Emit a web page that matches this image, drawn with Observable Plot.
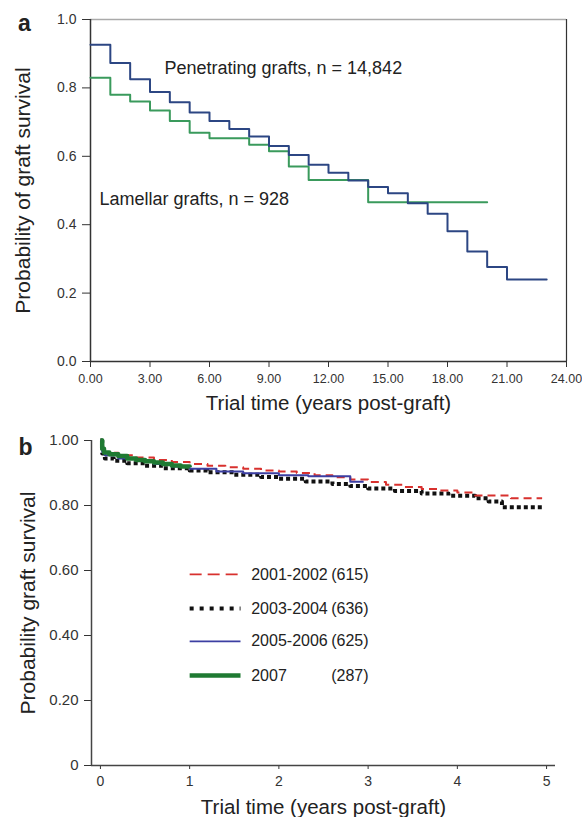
<!DOCTYPE html>
<html><head><meta charset="utf-8">
<script src="https://cdn.jsdelivr.net/npm/d3@7"></script>
<script src="https://cdn.jsdelivr.net/npm/@observablehq/plot@0.6"></script>
<style>
body{margin:0;background:#fff;}
#wrap{width:582px;}
svg{display:block}
</style></head><body><div id="wrap"></div>
<script>
// ---------- Panel a data ----------
const penYears = [0,1,2,3,4,5,6,7,8,9,10,11,12,13,14,15,16,17,18,19,20,21,23];
const penSurv  = [0.926,0.873,0.825,0.788,0.758,0.728,0.703,0.680,0.658,0.630,0.604,0.575,0.552,0.529,0.510,0.492,0.463,0.432,0.381,0.322,0.276,0.240,0.240];
const lamYears = [0,1,2,3,4,5,6,8,9,10,11,14,20];
const lamSurv  = [0.830,0.780,0.760,0.734,0.703,0.669,0.653,0.634,0.615,0.570,0.531,0.466,0.466];
const xTicksA = [0,3,6,9,12,15,18,21,24];
const yTicksA = [0,0.2,0.4,0.6,0.8,1.0];
const annotText = ["Penetrating grafts, n = 14,842","Lamellar grafts, n = 928"];
const annotYear = [3.73,0.45];
const annotSurv = [0.857,0.474];

// ---------- Panel b data ----------
const t0102 = [0,0.02,0.05,0.2,0.4,0.6,0.8,1.0,1.2,1.4,1.6,1.8,2.0,2.2,2.4,2.6,2.8,3.0,3.2,3.4,3.6,3.8,4.0,4.2,4.6,4.95];
const s0102 = [1.0,0.97,0.962,0.955,0.948,0.94,0.934,0.928,0.922,0.918,0.913,0.908,0.905,0.9,0.893,0.887,0.88,0.872,0.864,0.857,0.851,0.846,0.84,0.831,0.822,0.822];
const t0304 = [0,0.02,0.05,0.15,0.3,0.5,0.7,1.0,1.2,1.5,1.8,2.0,2.3,2.6,2.8,3.0,3.3,3.6,3.9,4.2,4.35,4.5,4.95];
const s0304 = [1.0,0.96,0.945,0.938,0.93,0.922,0.915,0.908,0.902,0.895,0.888,0.882,0.874,0.866,0.86,0.852,0.845,0.837,0.83,0.822,0.812,0.795,0.795];
const t0506 = [0,0.02,0.05,0.2,0.4,0.6,0.8,1.0,1.3,1.6,2.0,2.33,2.8,2.95];
const s0506 = [1.0,0.965,0.955,0.945,0.937,0.928,0.92,0.913,0.905,0.899,0.893,0.89,0.873,0.873];
const t07 = [0,0.02,0.04,0.1,0.2,0.3,0.4,0.5,0.6,0.7,0.8,0.9,1.0];
const s07 = [1.0,0.975,0.963,0.958,0.952,0.945,0.94,0.936,0.932,0.928,0.923,0.92,0.918];
const legendPeriod = ["2001-2002","2003-2004","2005-2006","2007"];
const legendCount  = ["(615)","(636)","(625)","(287)"];
const xTicksB = [0,1,2,3,4,5];
const yTicksB = [0,0.2,0.4,0.6,0.8,1.0];

const FONT = '"Liberation Sans", Arial, Helvetica, sans-serif';
const ink = "#222";
const idx = a => a.map((_, i) => i);
const centered = {textAnchor: "middle", lineAnchor: "middle"};

// ---------- Panel a ----------
const A = Plot.plot({
  width: 582, height: 415,
  marginLeft: 90, marginRight: 16, marginTop: 19, marginBottom: 54,
  style: {fontFamily: FONT, background: "#fff", color: ink},
  x: {domain: [0, 24]},
  y: {domain: [0, 1]},
  marks: [
    Plot.ruleY([1], {stroke: "#aaa", strokeWidth: 1.5}),
    Plot.ruleX([24], {stroke: "#333", strokeWidth: 1.2}),
    Plot.axisX({ticks: xTicksA, tickFormat: d3.format(".2f"), tickSize: 6, tickPadding: 7, fontSize: 12.5, label: null, color: "#333"}),
    Plot.axisY({ticks: yTicksA, tickFormat: d3.format(".1f"), tickSize: 8, tickPadding: 6, fontSize: 14, label: null, color: "#333"}),
    Plot.ruleY([0], {stroke: "#333", strokeWidth: 1.5}),
    Plot.ruleX([0], {stroke: "#333", strokeWidth: 1.5}),
    Plot.line(idx(lamYears), {x: i => lamYears[i], y: i => lamSurv[i], curve: "step-after", stroke: "#3a9a5c", strokeWidth: 2}),
    Plot.line(idx(penYears), {x: i => penYears[i], y: i => penSurv[i], curve: "step-after", stroke: "#2c4683", strokeWidth: 2}),
    Plot.text(idx(annotText), {x: i => annotYear[i], y: i => annotSurv[i], text: i => annotText[i], textAnchor: "start", fontSize: 18, fill: ink}),
    Plot.text(["a"], {frameAnchor: "top-left", dx: -66, dy: 4, fontSize: 23, fontWeight: "bold", fill: ink, ...centered}),
    Plot.text(["Probability of graft survival"], {frameAnchor: "left", rotate: -90, dx: -67, fontSize: 21, fill: ink, ...centered}),
    Plot.text(["Trial time (years post-graft)"], {frameAnchor: "bottom", dy: 42, fontSize: 20.5, fill: ink, ...centered})
  ]
});

// ---------- Panel b ----------
const bx0 = 1.0, bx1 = 1.57, bxText = 1.69, bxCount = 3.005;
const legendY = [0.588, 0.483, 0.382, 0.277];
const styles = [
  {stroke: "#d8312e", strokeWidth: 1.6, strokeDasharray: "12,6"},
  {stroke: "#111", strokeWidth: 4, strokeDasharray: "4,6"},
  {stroke: "#3c3fa2", strokeWidth: 1.6},
  {stroke: "#1f7a32", strokeWidth: 4.5}
];
const series = [[t0102, s0102], [t0304, s0304], [t0506, s0506], [t07, s07]];
const curveStyles = [
  {stroke: "#d8312e", strokeWidth: 2, strokeDasharray: "8,5"},
  {stroke: "#111", strokeWidth: 4, strokeDasharray: "4,3"},
  {stroke: "#3c3fa2", strokeWidth: 2},
  {stroke: "#1f7a32", strokeWidth: 4.5}
];
const drawOrder = [1, 0, 2, 3];

const B = Plot.plot({
  width: 582, height: 402,
  marginLeft: 91, marginRight: 27, marginTop: 25, marginBottom: 52,
  style: {fontFamily: FONT, background: "#fff", color: ink},
  x: {domain: [-0.1, 5.1]},
  y: {domain: [0, 1]},
  marks: [
    Plot.axisX({ticks: xTicksB, tickFormat: d3.format("d"), tickSize: 4, tickPadding: 7, fontSize: 14, label: null, color: "#333"}),
    Plot.axisY({ticks: yTicksB, tickFormat: d => d === 0 ? "0" : d3.format(".2f")(d), tickSize: 7, tickPadding: 6, fontSize: 15, label: null, color: "#333"}),
    Plot.ruleY([0], {stroke: "#444", strokeWidth: 1.5}),
    Plot.ruleX([-0.1], {stroke: "#444", strokeWidth: 1.5}),
    ...drawOrder.map(k => {
      const [t, s] = series[k];
      return Plot.line(idx(t), {x: i => t[i], y: i => s[i], curve: "step-after", strokeLinecap: "butt", ...curveStyles[k]});
    }),
    ...styles.map((st, k) => Plot.link([k], {x1: bx0, x2: bx1, y1: legendY[k], y2: legendY[k], strokeLinecap: "butt", ...st})),
    Plot.text(idx(legendPeriod), {x: bxText, y: i => legendY[i], text: i => legendPeriod[i], textAnchor: "start", fontSize: 16, fill: ink}),
    Plot.text(idx(legendCount), {x: bxCount, y: i => legendY[i], text: i => legendCount[i], textAnchor: "end", fontSize: 16, fill: ink}),
    Plot.text(["b"], {frameAnchor: "top-left", dx: -66, dy: 7, fontSize: 23, fontWeight: "bold", fill: ink, ...centered}),
    Plot.text(["Probability graft survival"], {frameAnchor: "left", rotate: -90, dx: -63, fontSize: 21, fill: ink, ...centered}),
    Plot.text(["Trial time (years post-graft)"], {frameAnchor: "bottom", dy: 42, fontSize: 20.5, fill: ink, ...centered})
  ]
});

const wrap = document.getElementById("wrap");
wrap.appendChild(A);
wrap.appendChild(B);
</script>
</body></html>
